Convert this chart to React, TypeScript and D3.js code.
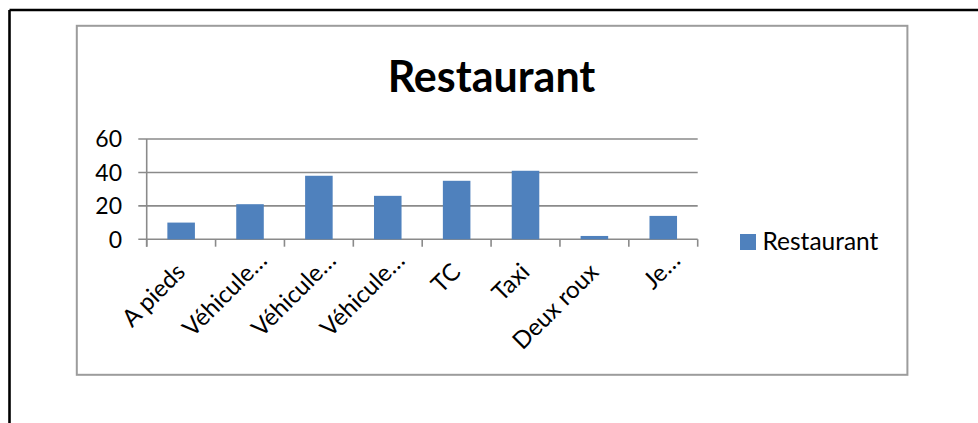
import React from "react";
import * as d3 from "d3";

// Chart content
const chartTitle = "Restaurant";
const seriesName = "Restaurant";
const categories = ["A pieds", "Véhicule…", "Véhicule… ", "Véhicule…  ", "TC", "Taxi", "Deux roux", "Je…"];
const values = [10, 21, 38, 26, 35, 41, 2, 14];
const yTicks = [0, 20, 40, 60];

const W = 978;
const H = 423;
const FONT = "Lato, 'Open Sans', sans-serif";
const BAR = "#4F81BD";
const AXIS = "#8a8a8a";

// plot geometry
const plotLeft = 146.7;
const plotRight = 697.7;
const yZero = 239.3;
const yTop = 139;

export default function App() {
  const x = d3
    .scaleBand<string>()
    .domain(categories)
    .range([plotLeft, plotRight])
    .paddingInner(0.6)
    .paddingOuter(0.3);
  const y = d3.scaleLinear().domain([0, 60]).range([yZero, yTop]);
  const step = x.step();
  const boundaries = d3.range(categories.length + 1).map((i) => plotLeft + i * step);

  return (
    <svg
      width={W}
      height={H}
      viewBox={`0 0 ${W} ${H}`}
      style={{ position: "absolute", left: 0, top: 0, background: "#fff" }}
      fontFamily={FONT}
    >
      <rect x={0} y={0} width={W} height={H} fill="#fff" />
      {/* page frame */}
      <line x1={9.5} x2={W} y1={10} y2={10} stroke="#000" strokeWidth={2.6} />
      <line x1={9.5} x2={9.5} y1={10} y2={H} stroke="#000" strokeWidth={2.6} />

      {/* chart area border */}
      <rect x={76.8} y={25.8} width={830.6} height={349} fill="#fff" stroke="#9c9c9c" strokeWidth={2} />

      {/* title */}
      <text x={491.5} y={91.5} textAnchor="middle" fontSize={43} fontWeight={700} fill="#000">
        {chartTitle}
      </text>

      {/* gridlines and y ticks */}
      {yTicks.map((t) => (
        <g key={t}>
          <line x1={138.3} x2={plotRight} y1={y(t)} y2={y(t)} stroke={AXIS} strokeWidth={1.6} />
          <text x={122} y={y(t)} dy="0.36em" textAnchor="end" fontSize={23} fill="#000">
            {t}
          </text>
        </g>
      ))}

      {/* y axis line */}
      <line x1={plotLeft} x2={plotLeft} y1={yTop} y2={yZero + 7.4} stroke={AXIS} strokeWidth={1.6} />

      {/* x axis tick marks */}
      {boundaries.map((bx, i) => (
        <line key={i} x1={bx} x2={bx} y1={yZero} y2={yZero + 7.4} stroke={AXIS} strokeWidth={1.6} />
      ))}

      {/* bars */}
      {categories.map((c, i) => (
        <rect
          key={c}
          x={x(c)}
          y={y(values[i])}
          width={x.bandwidth()}
          height={yZero - y(values[i])}
          fill={BAR}
        />
      ))}

      {/* category labels, rotated */}
      {categories.map((c) => {
        const cx = (x(c) as number) + x.bandwidth() / 2;
        const clipped = c.includes("…");
        const px = clipped ? cx + 18.5 : cx + 5.5;
        const py = clipped ? 262 : 273.5;
        return (
          <text
            key={c}
            transform={`translate(${px},${py}) rotate(-45)`}
            textAnchor="end"
            fontSize={24}
            fill="#000"
          >
            {c.trim()}
          </text>
        );
      })}

      {/* legend */}
      <rect x={740} y={234} width={16} height={16} fill={BAR} />
      <text x={762.5} y={250} fontSize={24.5} fill="#000">
        {seriesName}
      </text>
    </svg>
  );
}
